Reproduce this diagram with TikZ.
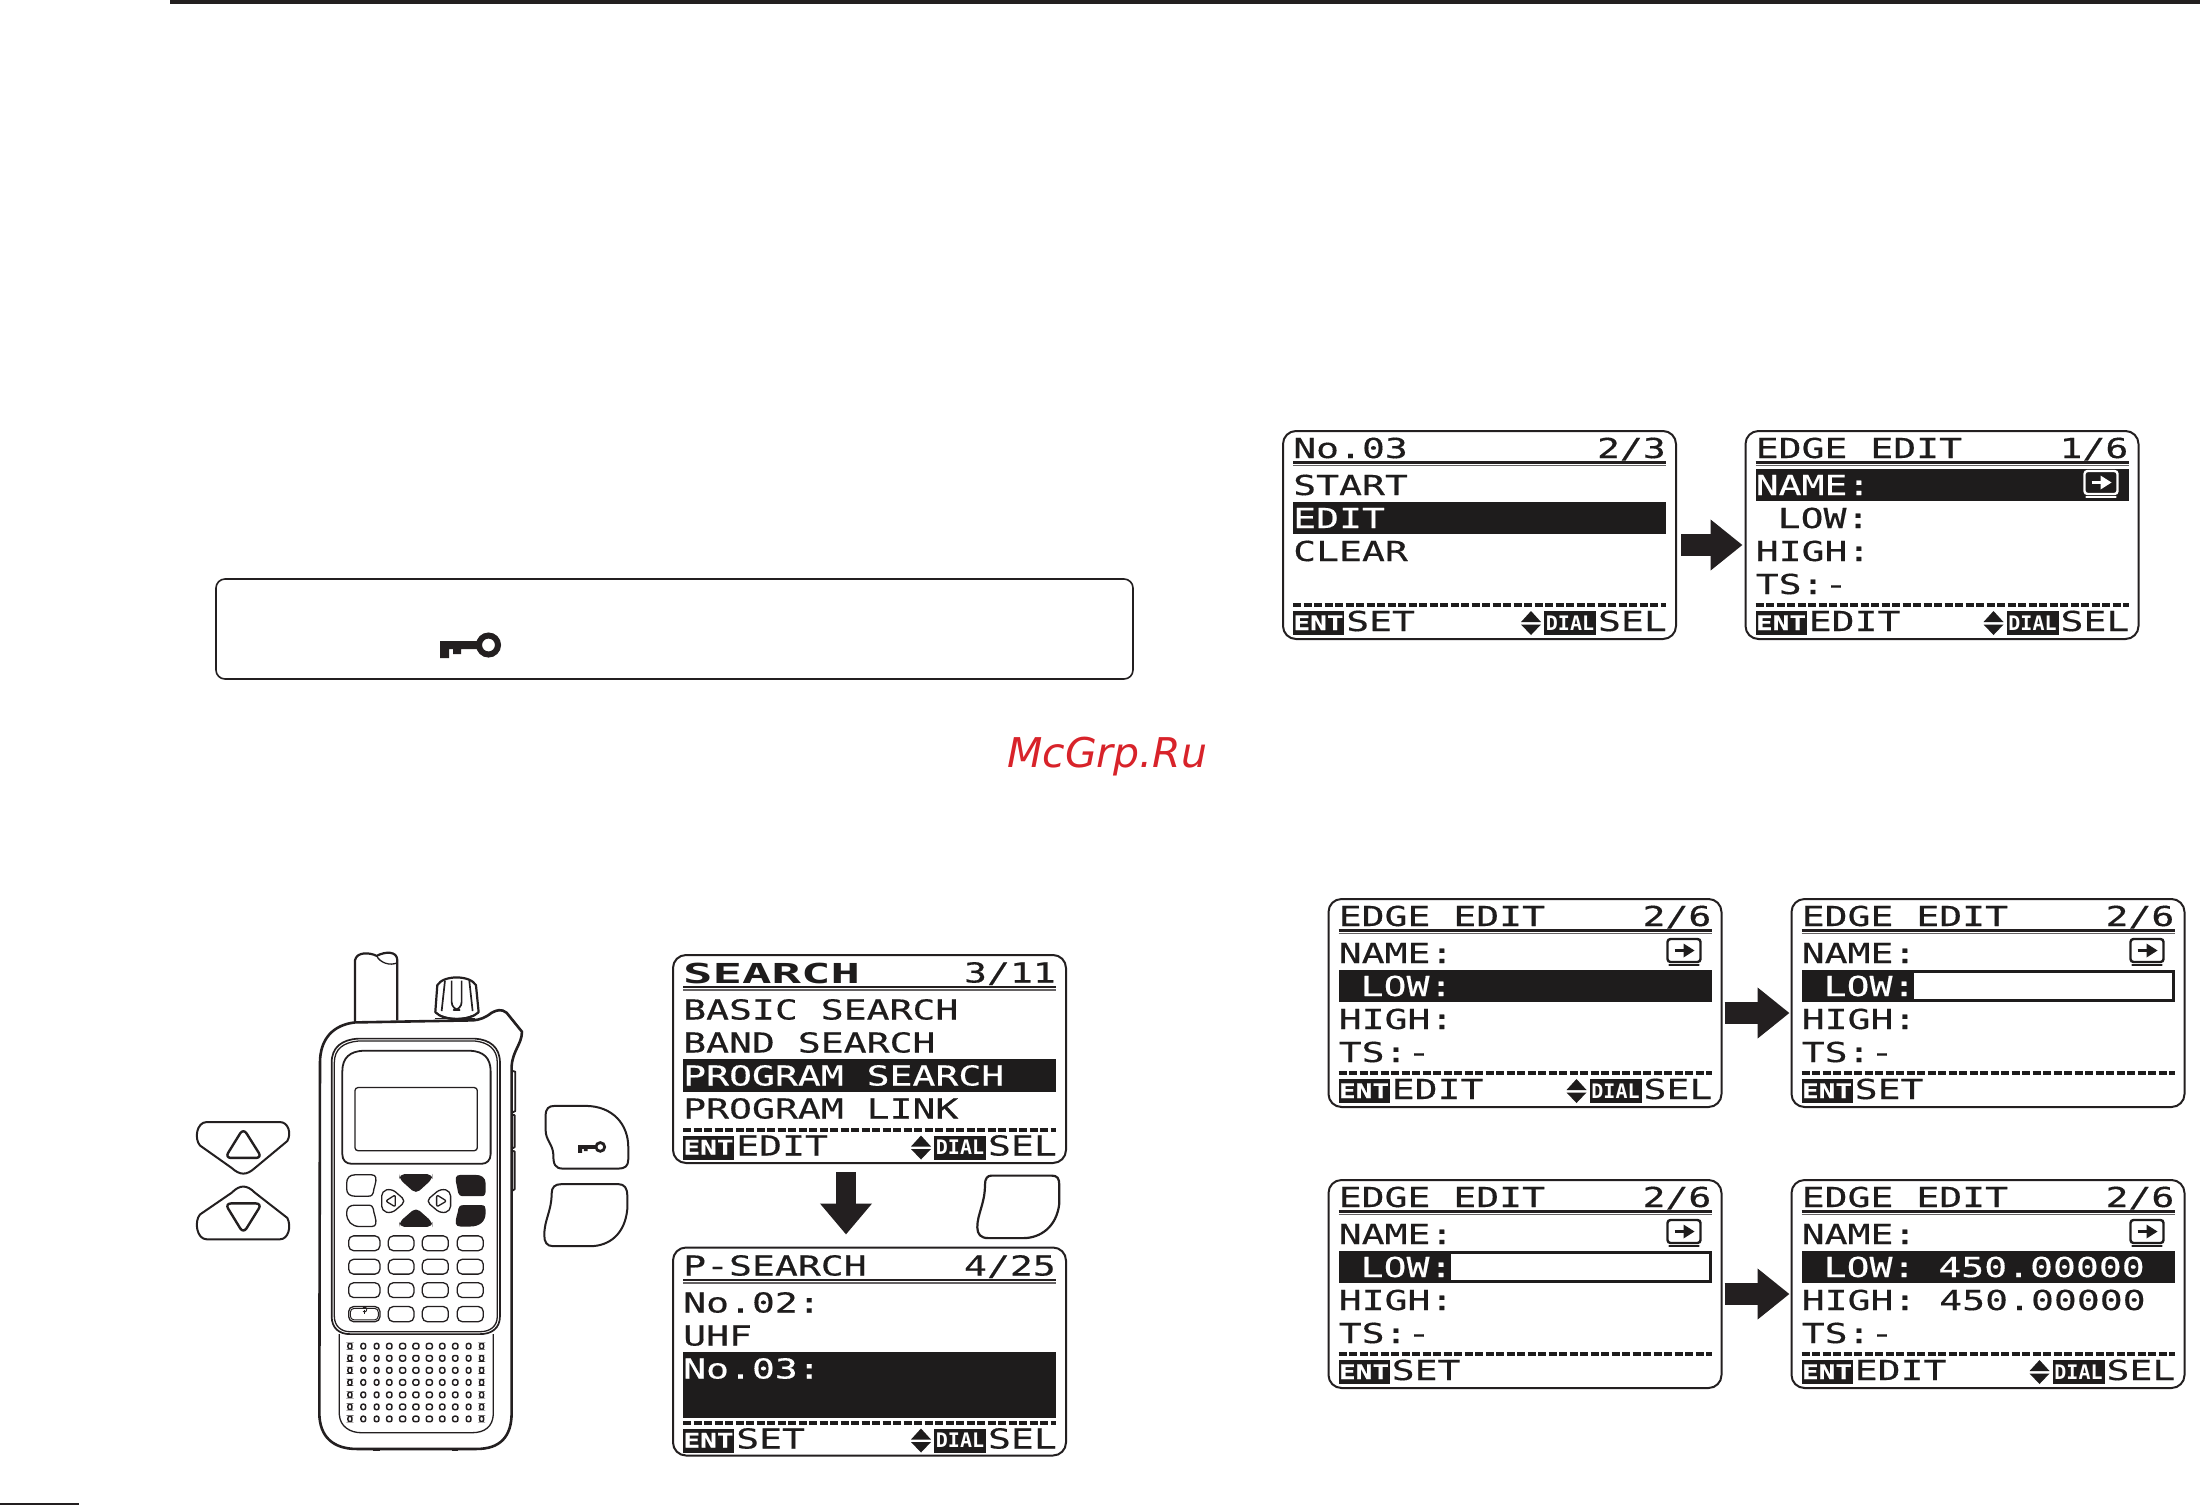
\documentclass[tikz,border=0pt]{standalone}
\usepackage{fontspec}
\usetikzlibrary{arrows.meta,calc}
\setmainfont{DejaVu Sans}
\newfontfamily\lcdfont[FakeStretch=1.385,FakeBold=0.4]{DejaVu Sans Mono}
\newfontfamily\lcdbigfont[FakeStretch=1.78]{DejaVu Sans Mono}
\newfontfamily\lcdsmall{DejaVu Sans Mono}
\newfontfamily\markfont{DejaVu Sans}
\definecolor{ink}{HTML}{231F20}
\definecolor{lcdink}{HTML}{1E1C1C}
\definecolor{markred}{HTML}{D8232A}
\tikzset{
  screenbox/.style={draw=ink,line width=2pt,rounded corners=13pt,rectangle,minimum width=393pt,minimum height=208pt,inner sep=0pt},
  lcdl/.style={anchor=base west,inner sep=0pt,font=\lcdfont\fontsize{27.5}{30}\selectfont},
  lcdr/.style={anchor=base east,inner sep=0pt,font=\lcdfont\fontsize{27.5}{30}\selectfont},
  fatarrow/.style={draw=ink,line width=22pt,-{Triangle[length=32pt,width=49pt,fill=ink]}},
  phoneout/.style={draw=ink,line width=2.2pt,line join=round},
  phonein/.style={draw=ink,line width=1.3pt,line join=round},
  hole/.style={draw=ink,line width=1.5pt,rounded corners=2pt}
}
% prefix, x, y, text
\newcommand{\ltxt}[5][lcdink]{\node[lcdl,text=#1] (#2) at (#3,#4) {#5};}
\newcommand{\rtxt}[5][lcdink]{\node[lcdr,text=#1] (#2) at (#3,#4) {#5};}
\newcommand{\titlerule}{%
  \draw[ink,line width=2.2pt] (10,31.5) -- (383,31.5);
  \draw[ink!70,line width=1.6pt] (10,34.5) -- (383,34.5);
  \draw[lcdink,line width=4pt,dash pattern=on 8pt off 2.5pt] (10,174) -- (383,174);}
\newcommand{\entfoot}[2]{%
  \fill[lcdink] (10,180) rectangle (61,204);
  \node[anchor=base,inner sep=0pt,text=white,font=\lcdfont\bfseries\fontsize{20}{21}\selectfont] (#1ent) at (35.5,199) {ENT};
  \ltxt{#1foot}{63}{200}{#2}}
\newcommand{\dialfoot}[1]{%
  \fill[lcdink] (238,191) -- (248,180) -- (258,191) -- cycle;
  \fill[lcdink] (238,193.5) -- (248,204) -- (258,193.5) -- cycle;
  \fill[lcdink] (261,180) rectangle (313,204);
  \node[anchor=base,inner sep=0pt,text=white,font=\lcdsmall\bfseries\fontsize{20}{21}\selectfont] (#1dial) at (287,199) {DIAL};
  \rtxt{#1sel}{384}{200}{SEL}}
\newcommand{\enticon}[1]{%
  \draw[#1,line width=2.4pt,rounded corners=3pt] (339,40) rectangle (372,63);
  \draw[#1,line width=2.6pt,line cap=round] (341,66) -- (370,66);
  \draw[#1,line width=2.8pt] (346,51.5) -- (357,51.5);
  \fill[#1] (355,44.5) -- (366,51.5) -- (355,58.5) -- cycle;}
\newcommand{\hilite}[2]{\fill[lcdink] (10,#1) rectangle (383,#2);}
\newcommand{\keyicon}[3]{%
  \begin{scope}[shift={(#1,#2)},x=#3pt,y=-#3pt]
    \fill[ink] (0,10) -- (37,10) -- (37,18) -- (21,18) -- (21,23) -- (13,23) -- (13,18) -- (9,18) -- (9,27) -- (0,27) -- cycle;
    \draw[ink,line width=#3*6pt] (48.5,14) circle[radius=9.5];
  \end{scope}}
\begin{document}
\begin{tikzpicture}[x=1pt,y=-1pt]
\useasboundingbox (0,0) rectangle (2200,1505);
\fill[white] (0,0) rectangle (2200,1505);
% page rules
\fill[ink] (170,0) rectangle (2200,3.5);
\fill[ink] (0,1503) rectangle (79,1505);
% notice box
\draw[ink,line width=1.6pt,rounded corners=9pt] (216,579) rectangle (1133,679);
\keyicon{440}{631}{1}
% watermark
\node[anchor=base west,inner sep=0pt,text=markred,font=\markfont\itshape\fontsize{41}{44}\selectfont] (watermark) at (1007,767) {McGrp.Ru};

% ---- screens
\node[screenbox] (s1) at (869.5,1059) {};
\begin{scope}[shift={(673,955.5)}]
  \titlerule
  \hilite{103}{136}
  \node[anchor=base west,inner sep=0pt,font=\lcdbigfont\bfseries\fontsize{27.5}{30}\selectfont,text=lcdink] (s1t) at (10,28) {SEARCH};
  \rtxt{s1p}{383}{27}{3/11}
  \ltxt{s1a}{10}{64}{BASIC SEARCH}
  \ltxt{s1b}{10}{97}{BAND SEARCH}
  \ltxt[white]{s1c}{10}{130}{PROGRAM SEARCH}
  \ltxt{s1d}{10}{163}{PROGRAM LINK}
  \entfoot{s1}{EDIT}
  \dialfoot{s1}
\end{scope}
\node[screenbox] (s2) at (869.5,1351.5) {};
\begin{scope}[shift={(673,1248.5)}]
  \titlerule
  \hilite{103}{169}
  \ltxt{s2t}{10}{27}{P-SEARCH}
  \rtxt{s2p}{383}{27}{4/25}
  \ltxt{s2a}{10}{64}{No.02:}
  \ltxt{s2b}{10}{97}{UHF}
  \ltxt[white]{s2c}{10}{130}{No.03:}
  \entfoot{s2}{SET}
  \dialfoot{s2}
\end{scope}
\node[screenbox] (s3) at (1479.5,535) {};
\begin{scope}[shift={(1283,431)}]
  \titlerule
  \hilite{71}{103}
  \ltxt{s3t}{10}{27}{No.03}
  \rtxt{s3p}{383}{27}{2/3}
  \ltxt{s3a}{10}{64}{START}
  \ltxt[white]{s3b}{10}{97}{EDIT}
  \ltxt{s3c}{10}{130}{CLEAR}
  \entfoot{s3}{SET}
  \dialfoot{s3}
\end{scope}
\node[screenbox] (s4) at (1942,535) {};
\begin{scope}[shift={(1745.5,431)}]
  \titlerule
  \hilite{38}{70}
  \enticon{white}
  \ltxt{s4t}{10}{27}{EDGE EDIT}
  \rtxt{s4p}{383}{27}{1/6}
  \ltxt[white]{s4a}{10}{64}{NAME:}
  \ltxt{s4b}{32}{97}{LOW:}
  \ltxt{s4c}{10}{130}{HIGH:}
  \ltxt{s4d}{10}{163}{TS:-}
  \entfoot{s4}{EDIT}
  \dialfoot{s4}
\end{scope}
\node[screenbox] (s5) at (1525,1003) {};
\begin{scope}[shift={(1328.5,899)}]
  \titlerule
  \hilite{71}{103}
  \enticon{lcdink}
  \ltxt{s5t}{10}{27}{EDGE EDIT}
  \rtxt{s5p}{383}{27}{2/6}
  \ltxt{s5a}{10}{64}{NAME:}
  \ltxt[white]{s5b}{32}{97}{LOW:}
  \ltxt{s5c}{10}{130}{HIGH:}
  \ltxt{s5d}{10}{163}{TS:-}
  \entfoot{s5}{EDIT}
  \dialfoot{s5}
\end{scope}
\node[screenbox] (s6) at (1988,1003) {};
\begin{scope}[shift={(1791.5,899)}]
  \titlerule
  \hilite{71}{103}
  \fill[white] (122,74) rectangle (380,100);
  \enticon{lcdink}
  \ltxt{s6t}{10}{27}{EDGE EDIT}
  \rtxt{s6p}{383}{27}{2/6}
  \ltxt{s6a}{10}{64}{NAME:}
  \ltxt[white]{s6b}{32}{97}{LOW:}
  \ltxt{s6c}{10}{130}{HIGH:}
  \ltxt{s6d}{10}{163}{TS:-}
  \entfoot{s6}{SET}
\end{scope}
\node[screenbox] (s7) at (1525,1284) {};
\begin{scope}[shift={(1328.5,1180)}]
  \titlerule
  \hilite{71}{103}
  \fill[white] (122,74) rectangle (380,100);
  \enticon{lcdink}
  \ltxt{s7t}{10}{27}{EDGE EDIT}
  \rtxt{s7p}{383}{27}{2/6}
  \ltxt{s7a}{10}{64}{NAME:}
  \ltxt[white]{s7b}{32}{97}{LOW:}
  \ltxt{s7c}{10}{130}{HIGH:}
  \ltxt{s7d}{10}{163}{TS:-}
  \entfoot{s7}{SET}
\end{scope}
\node[screenbox] (s8) at (1988,1284) {};
\begin{scope}[shift={(1791.5,1180)}]
  \titlerule
  \hilite{71}{103}
  \enticon{lcdink}
  \ltxt{s8t}{10}{27}{EDGE EDIT}
  \rtxt{s8p}{383}{27}{2/6}
  \ltxt{s8a}{10}{64}{NAME:}
  \ltxt[white]{s8b}{32}{97}{LOW: 450.00000}
  \ltxt{s8c}{10}{130}{HIGH: 450.00000}
  \ltxt{s8d}{10}{163}{TS:-}
  \entfoot{s8}{EDIT}
  \dialfoot{s8}
\end{scope}

% ---- arrows between the screens
\draw[fatarrow,line width=20pt,-{Triangle[length=31pt,width=50pt,fill=ink]},shorten <=8pt,shorten >=12pt] ([xshift=-23.5pt]s1.south) -- ([xshift=-23.5pt]s2.north);
\draw[fatarrow,shorten <=4pt,shorten >=2pt] ([yshift=-10pt]s3.east) -- ([yshift=-10pt]s4.west);
\draw[fatarrow,shorten <=2pt,shorten >=1pt] ([yshift=-10pt]s5.east) -- ([yshift=-10pt]s6.west);
\draw[fatarrow,shorten <=2pt,shorten >=1pt] ([yshift=-10pt]s7.east) -- ([yshift=-10pt]s8.west);

% ---- extra soft key beside the down arrow
\begin{scope}[shift={(660,940)},x=0.3333pt,y=-0.338pt]
  \draw[phoneout] (975,725) .. controls (975,705) and (982,697) .. (995,697) -- (1175,697) .. controls (1192,697) and (1198,705) .. (1198,725) -- (1198,780) .. controls (1190,850) and (1140,882) .. (1090,882) -- (985,882) .. controls (962,882) and (952,870) .. (952,850) .. controls (952,810) and (975,780) .. (975,725) -- cycle;
\end{scope}

% ---- transceiver, drawn in the coordinates of a 3x crop
\begin{scope}[shift={(180,930)},x=0.3333pt,y=-0.3448pt]
  % side keys
  \draw[phoneout,line width=2pt] (80,557) -- (300,557) .. controls (325,557) and (335,590) .. (322,612) -- (225,690) .. controls (200,712) and (180,712) .. (155,690) -- (60,625) .. controls (42,605) and (50,557) .. (80,557) -- cycle;
  \draw[phoneout,line width=2.4pt,rounded corners=6pt] (190,575) -- (246,661) -- (135,661) -- cycle;
  \draw[phoneout,line width=2pt] (80,897) -- (300,897) .. controls (325,897) and (335,860) .. (322,835) -- (225,762) .. controls (200,738) and (180,738) .. (155,762) -- (60,825) .. controls (42,845) and (50,897) .. (80,897) -- cycle;
  \draw[phoneout,line width=2.4pt,rounded corners=6pt] (190,880) -- (246,793) -- (135,793) -- cycle;
  % right keys
  \draw[phoneout,line width=2pt] (1097,540) .. controls (1097,518) and (1105,510) .. (1125,510) -- (1215,510) .. controls (1300,510) and (1345,565) .. (1345,630) -- (1345,665) .. controls (1345,685) and (1335,692) .. (1315,692) -- (1150,692) .. controls (1125,692) and (1120,680) .. (1120,650) .. controls (1118,620) and (1097,610) .. (1097,580) -- cycle;
  \draw[phoneout,line width=2pt] (1115,765) .. controls (1115,745) and (1125,737) .. (1145,737) -- (1315,737) .. controls (1333,737) and (1342,748) .. (1342,770) -- (1342,810) .. controls (1335,880) and (1290,917) .. (1230,917) -- (1120,917) .. controls (1100,917) and (1093,905) .. (1093,885) .. controls (1093,840) and (1115,815) .. (1115,765) -- cycle;
  % antenna
  \draw[phoneout] (525,268) -- (525,88) .. controls (530,62) and (570,65) .. (590,75) .. controls (615,62) and (652,60) .. (652,88) -- (652,262);
  \draw[phonein] (590,75) .. controls (600,95) and (630,105) .. (652,95);
  % knob
  \draw[phoneout,line width=2.2pt] (772,160) .. controls (790,130) and (870,130) .. (888,160) -- (896,238) .. controls (870,265) and (790,265) .. (766,238) -- cycle;
  \draw[phonein,line width=1.7pt] (795,147) -- (785,235);
  \draw[phonein,line width=1.7pt,rounded corners=8pt] (815,147) -- (815,232) -- (845,232) -- (845,147);
  \draw[phonein,line width=1.7pt] (868,147) -- (878,235);
  \draw[phonein] (766,240) .. controls (800,262) and (860,262) .. (896,240);
  \draw[phonein] (765,257) -- (885,257);
  % body
  \draw[phoneout,line width=2.6pt] (525,268) .. controls (460,275) and (420,315) .. (420,385) -- (418,1400) .. controls (418,1470) and (460,1505) .. (530,1505) -- (890,1505) .. controls (960,1505) and (995,1470) .. (995,1400) -- (995,395) .. controls (998,350) and (1026,330) .. (1026,295) -- (980,240) .. controls (965,228) and (950,232) .. (935,240) .. controls (915,255) and (900,260) .. (880,262) -- cycle;
  \draw[phonein,line width=1.8pt] (995,408) -- (1006,411) -- (1006,525) -- (995,530);
  \draw[phonein,line width=1.8pt] (995,535) -- (1004,537) -- (1004,630) -- (995,634);
  \draw[phonein,line width=1.8pt] (995,640) -- (1004,642) -- (1004,752) -- (995,757);
  % feet
  \fill[ink] (580,1505) rectangle (600,1512);
  \fill[ink] (815,1505) rectangle (835,1512);
  % front panel
  \draw[phoneout,line width=1.7pt] (455,1120) -- (455,385) .. controls (455,340) and (485,318) .. (535,315) -- (885,315) .. controls (930,318) and (960,340) .. (960,385) -- (960,1120) .. controls (960,1155) and (935,1172) .. (900,1172) -- (510,1172) .. controls (478,1172) and (455,1155) .. (455,1120) -- cycle;
  \draw[phonein] (463,1120) -- (463,385) .. controls (463,345) and (490,326) .. (535,322) -- (885,322) .. controls (925,326) and (952,345) .. (952,385) -- (952,1120) .. controls (952,1150) and (930,1165) .. (900,1165) -- (510,1165) .. controls (485,1165) and (463,1150) .. (463,1120) -- cycle;
  % display bezel and LCD
  \draw[phoneout,line width=1.8pt] (487,410) .. controls (487,370) and (510,352) .. (550,350) -- (870,350) .. controls (910,352) and (932,370) .. (932,410) -- (932,650) .. controls (932,668) and (920,678) .. (905,678) -- (515,678) .. controls (498,678) and (487,668) .. (487,650) -- cycle;
  \draw[phonein,rounded corners=3pt] (525,457) rectangle (892,640);
  % function keys
  \draw[phonein] (500,735) .. controls (500,718) and (510,710) .. (525,710) -- (575,710) .. controls (590,710) and (590,722) .. (585,740) .. controls (578,755) and (585,772) .. (565,772) -- (525,772) .. controls (510,772) and (500,765) .. (500,750) -- cycle;
  \draw[phonein] (500,820) .. controls (500,805) and (510,798) .. (525,798) -- (565,798) .. controls (585,798) and (578,815) .. (585,830) .. controls (590,848) and (590,860) .. (575,860) -- (540,860) .. controls (515,860) and (500,845) .. (500,820) -- cycle;
  \fill[ink] (917,735) .. controls (917,718) and (905,710) .. (885,710) -- (842,710) .. controls (825,710) and (825,722) .. (830,740) .. controls (835,755) and (830,772) .. (850,772) -- (905,772) .. controls (915,772) and (917,765) .. (917,755) -- cycle;
  \fill[ink] (917,812) .. controls (917,804) and (915,798) .. (905,798) -- (850,798) .. controls (830,798) and (837,815) .. (830,830) .. controls (825,848) and (825,860) .. (842,860) -- (870,860) .. controls (900,860) and (917,845) .. (917,820) -- cycle;
  % direction keys
  \fill[ink,rounded corners=5pt] (658,708) -- (757,708) -- (757,722) -- (708,765) -- (658,722) -- cycle;
  \fill[ink,rounded corners=5pt] (658,861) -- (757,861) -- (757,847) -- (708,805) -- (658,847) -- cycle;
  \draw[phonein,rounded corners=5pt] (605,757) -- (635,750) -- (678,786) -- (635,822) -- (605,815) -- cycle;
  \draw[phonein,rounded corners=2pt] (646,768) -- (646,803) -- (617,786) -- cycle;
  \draw[phonein,rounded corners=5pt] (812,757) -- (782,750) -- (738,786) -- (782,822) -- (812,815) -- cycle;
  \draw[phonein,rounded corners=2pt] (770,768) -- (770,803) -- (800,786) -- cycle;
  % key grid
  \foreach \ya/\yb in {887/930,955/998,1023/1066,1092/1136}{
    \draw[phonein,rounded corners=5pt] (625,\ya) rectangle (702,\yb);
    \draw[phonein,rounded corners=5pt] (727,\ya) rectangle (805,\yb);
    \draw[phonein,rounded corners=5pt] (832,\ya) rectangle (910,\yb);
    \draw[phonein,rounded corners=5pt] (506,\ya) rectangle (600,\yb);
  }
  \draw[phonein,line width=1pt,rounded corners=4pt] (511,1097) rectangle (595,1131);
  \draw[phonein,line width=.9pt] (549,1106) arc[start angle=130,end angle=-130,radius=7];
  \draw[phonein,line width=.9pt] (553,1101) -- (553,1113);
  % speaker
  \draw[phonein] (478,1172) -- (478,1405) .. controls (480,1440) and (510,1458) .. (545,1458) -- (875,1458) .. controls (915,1458) and (938,1440) .. (940,1405) -- (940,1172);
  \foreach \x/\w in {510/6,550/7,590/7,628/8,668/9,708/9,748/9,787/8,826/8,866/7,905/6}{
    \foreach \y in {1207,1242,1277,1312,1348,1383,1418}{
      \draw[hole] ({\x-\w},{\y-8}) rectangle ({\x+\w},{\y+8});
    }
  }
\end{scope}
\keyicon{578}{1140.5}{0.46}
\end{tikzpicture}
\end{document}
